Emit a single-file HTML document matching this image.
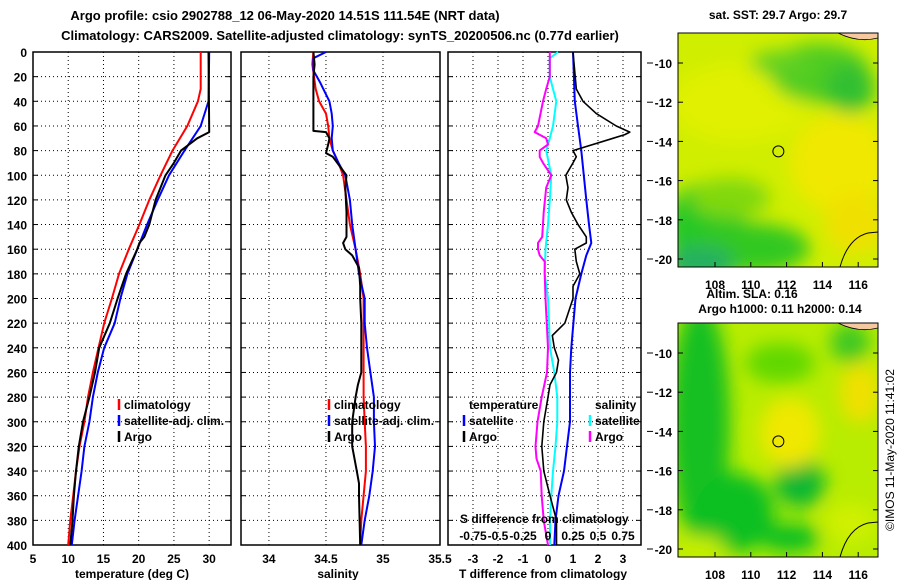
<!DOCTYPE html>
<html><head><meta charset="utf-8">
<style>
html,body{margin:0;padding:0;background:#fff;}
svg{display:block;font-family:"Liberation Sans",Arial,sans-serif;font-weight:bold;}
</style></head>
<body>
<svg id="c" width="900" height="580" viewBox="0 0 900 580">
<defs>
<filter id="blur8"><feGaussianBlur stdDeviation="9"/></filter>
<clipPath id="clipTop"><rect x="678" y="33" width="200" height="234"/></clipPath>
<clipPath id="clipBot"><rect x="678" y="323" width="200" height="234"/></clipPath>
</defs>
<text x="285" y="20" font-size="13" text-anchor="middle">Argo profile: csio 2902788_12 06-May-2020 14.51S 111.54E (NRT data)</text>
<text x="340" y="40" font-size="13" text-anchor="middle">Climatology: CARS2009. Satellite-adjusted climatology: synTS_20200506.nc (0.77d earlier)</text>
<g id="plots"></g>
<g id="maps"></g>
<text transform="translate(894,450) rotate(-90)" font-size="12" font-weight="normal" text-anchor="middle">©IMOS 11-May-2020 11:41:02</text>
</svg>
<script>
// ---------- DATA ----------
const depthTicks = [0,20,40,60,80,100,120,140,160,180,200,220,240,260,280,300,320,340,360,380,400];
const tempTicks = [5,10,15,20,25,30];
const salTicks = [34,34.5,35,35.5];
const tdiffTicks = [-3,-2,-1,0,1,2,3];
const sdiffTickLabels = ["-0.75","-0.5","-0.25","0","0.25","0.5","0.75"];
const sdiffTicks = [-0.75,-0.5,-0.25,0,0.25,0.5,0.75];

const tClimDepth = [0,30,40,60,80,100,120,140,160,180,200,220,240,260,280,300,320,340,360,380,400];
const tClim = [28.8,28.8,28.4,26.9,24.8,23.1,21.5,20.1,18.6,17.2,16.2,15.1,14.3,13.5,12.8,12.3,11.6,11.1,10.7,10.3,10.0];
const tSatDepth = [0,40,60,80,100,120,140,160,180,200,220,240,260,280,300,320,340,360,380,400];
const tSat = [30.0,29.9,28.8,26.5,24.3,22.7,21.2,19.8,18.4,17.4,16.6,15.1,14.2,13.5,13.0,12.3,11.9,11.4,10.9,10.5];
const argoDepth = [0,65,70,80,90,100,120,140,150,155,160,180,200,220,240,260,280,300,320,340,360,380,400];
const tArgo = [29.9,30.0,28.3,26.0,25.0,23.8,22.4,21.5,20.8,20.1,19.8,18.2,17.0,15.9,14.4,13.8,13.0,12.1,11.5,11.1,10.8,10.6,10.3];

const sClimDepth = [0,10,30,40,50,60,70,80,90,100,120,140,160,180,200,220,240,260,280,300,320,340,360,380,400];
const sClim = [34.39,34.38,34.41,34.44,34.5,34.52,34.53,34.56,34.61,34.65,34.68,34.71,34.76,34.80,34.83,34.83,34.83,34.83,34.83,34.84,34.85,34.85,34.83,34.81,34.80];
const sSatDepth = [0,5,15,25,40,50,60,70,80,90,100,120,140,160,180,200,220,240,260,280,300,320,340,360,380,400];
const sSat = [34.5,34.39,34.39,34.45,34.53,34.55,34.56,34.55,34.56,34.61,34.67,34.71,34.73,34.76,34.79,34.84,34.84,34.86,34.89,34.92,34.92,34.93,34.91,34.88,34.84,34.81];
const sArgoDepth = [0,10,20,64,65,70,75,82,85,95,100,110,130,150,155,160,165,175,190,200,220,240,260,270,280,300,320,330,340,350,360,400];
const sArgo = [34.39,34.4,34.39,34.39,34.5,34.53,34.52,34.5,34.56,34.64,34.68,34.67,34.68,34.68,34.65,34.67,34.73,34.79,34.80,34.80,34.81,34.81,34.81,34.78,34.76,34.73,34.73,34.75,34.77,34.79,34.79,34.80];

const dTSatDepth = [0,40,60,80,100,120,140,155,165,180,200,240,260,280,300,320,340,360,380,400];
const dTSat = [1.0,1.07,1.2,1.33,1.43,1.53,1.64,1.73,1.53,1.33,1.1,0.93,0.88,0.88,0.88,0.76,0.64,0.42,0.3,0.25];
const dTArgoDepth = [0,30,40,50,60,65,67,70,80,85,90,100,110,120,130,140,150,155,160,170,180,190,200,220,230,240,250,260,270,280,300,320,340,360,380,400];
const dTArgo = [1.0,1.13,1.4,1.93,2.73,3.27,3.07,2.6,1.0,1.13,1.0,0.71,0.8,0.73,0.93,1.2,1.53,1.53,1.07,1.13,1.27,1.0,1.0,0.67,0.17,0.25,0.42,0.34,0.08,0,-0.17,-0.25,-0.17,0.08,0.34,0.34];
const dSSatDepth = [0,5,20,30,40,60,70,80,100,120,140,160,180,200,240,260,280,300,320,340,360,380,400];
const dSSat = [0.1,0.018,0.018,0.05,0.083,0.05,0.018,-0.018,0.033,0.018,0,-0.025,-0.033,0,0.02,0.063,0.093,0.093,0.075,0.05,0.033,0.02,0.02];
const dSArgoDepth = [0,20,30,40,60,65,70,75,80,85,90,100,110,130,150,155,160,165,170,180,200,240,260,280,300,320,330,340,360,380,400];
const dSArgo = [0.018,0.018,-0.018,-0.05,-0.1,-0.133,-0.018,0,-0.083,-0.083,-0.05,0.033,-0.018,-0.043,-0.058,-0.1,-0.1,-0.083,-0.033,-0.033,-0.025,0,-0.01,-0.063,-0.105,-0.125,-0.115,-0.073,-0.063,-0.043,0];

const latTicks = [-10,-12,-14,-16,-18,-20];
const lonTicks = [108,110,112,114,116];
const argoLon = 111.54, argoLat = -14.51;

// ---------- HELPERS ----------
const NS = "http://www.w3.org/2000/svg";
function mk(tag, attrs, parent){ const e=document.createElementNS(NS,tag); for(const k in attrs) e.setAttribute(k,attrs[k]); parent.appendChild(e); return e; }
const plots = document.getElementById('plots');
const Y0 = 52, Y1 = 545;
const yD = d => Y0 + (d/400)*(Y1-Y0);

function panel(name, x0, x1, vmin, vmax, ticks, tickLabels){
  const g = mk('g',{},plots);
  
  
  const sx = v => x0 + (v-vmin)/(vmax-vmin)*(x1-x0);
  depthTicks.forEach(d=>{ if(d>0&&d<400){ const l=mk('line',{x1:x0,x2:x1,y1:yD(d),y2:yD(d),stroke:'#000','stroke-width':1,'stroke-dasharray':'1,3'},g);
      }});
  ticks.forEach(v=>{ const x=sx(v); if(x>x0+1&&x<x1-1){ const l=mk('line',{x1:x,x2:x,y1:Y0,y2:Y1,stroke:'#000','stroke-width':1,'stroke-dasharray':'1,3'},g);
      }});
  depthTicks.forEach(d=>{ mk('line',{x1:x0,x2:x0+5,y1:yD(d),y2:yD(d),stroke:'#000'},g); mk('line',{x1:x1-5,x2:x1,y1:yD(d),y2:yD(d),stroke:'#000'},g); });
  ticks.forEach((v,i)=>{ const x=sx(v);
    const t=mk('text',{x:x,y:Y1+18,'font-size':12,'text-anchor':'middle'},g); t.textContent = tickLabels? tickLabels[i] : String(v);
      });
  const r=mk('rect',{x:x0,y:Y0,width:x1-x0,height:Y1-Y0,fill:'none',stroke:'#000','stroke-width':1.5},g);
   
  return {g, sx};
}
function series(p, name, depths, vals, color, w){
  const pts = depths.map((d,i)=> p.sx(vals[i]).toFixed(1)+','+yD(d).toFixed(1)).join(' ');
  const l = mk('polyline',{points:pts,fill:'none',stroke:color,'stroke-width':w||2,'stroke-linejoin':'round'},p.g);
  
  
}
function label(g, x, y, s, name, anchor, size){
  const t=mk('text',{x:x,y:y,'font-size':size||12,'text-anchor':anchor||'start'},g); t.textContent=s;
  
  
  return t;
}
function legendItem(g, x, y, color, s, name){
  mk('line',{x1:x,x2:x,y1:y-10,y2:y+1,stroke:color,'stroke-width':2.5},g);
  label(g, x+5, y, s, name);
}

const yl = mk('g',{},plots);


depthTicks.forEach(d=>{ label(yl, 27, yD(d)+5, String(d), 'y-tick-label', 'end'); });

// Panel 1 temperature
const p1 = panel('temperature-panel', 33, 231, 5, 33.1, tempTicks);
series(p1,'temp-climatology-line',tClimDepth,tClim,'#f00');
series(p1,'temp-satellite-line',tSatDepth,tSat,'#00f');
series(p1,'temp-argo-line',argoDepth,tArgo,'#000');
label(p1.g, 132, 578, 'temperature (deg C)', 'x-axis-title', 'middle');
legendItem(p1.g, 119, 409, '#f00', 'climatology', 'legend-climatology');
legendItem(p1.g, 119, 425, '#00f', 'satellite-adj. clim.', 'legend-satellite');
legendItem(p1.g, 119, 441, '#000', 'Argo', 'legend-argo');

// Panel 2 salinity
const p2 = panel('salinity-panel', 241, 440, 33.755, 35.5, salTicks);
series(p2,'sal-climatology-line',sClimDepth,sClim,'#f00');
series(p2,'sal-satellite-line',sSatDepth,sSat,'#00f');
series(p2,'sal-argo-line',sArgoDepth,sArgo,'#000');
label(p2.g, 338, 578, 'salinity', 'x-axis-title', 'middle');
legendItem(p2.g, 329, 409, '#f00', 'climatology', 'legend-climatology');
legendItem(p2.g, 329, 425, '#00f', 'satellite-adj. clim.', 'legend-satellite');
legendItem(p2.g, 329, 441, '#000', 'Argo', 'legend-argo');

// Panel 3 differences
const p3 = panel('difference-panel', 448, 641, -4, 3.72, tdiffTicks);
const p3s = {g:p3.g, sx: v => p3.sx(v*4)};
series(p3s,'sdiff-satellite-line',dSSatDepth,dSSat,'#0ff');
series(p3s,'sdiff-argo-line',dSArgoDepth,dSArgo,'#f0f');
series(p3,'tdiff-satellite-line',dTSatDepth,dTSat,'#00f');
series(p3,'tdiff-argo-line',dTArgoDepth,dTArgo,'#000',1.6);
label(p3.g, 543, 578, 'T difference from climatology', 'x-axis-title', 'middle');
label(p3.g, 469, 409, 'temperature', 'legend-temperature-header');
legendItem(p3.g, 464, 425, '#00f', 'satellite', 'legend-t-satellite');
legendItem(p3.g, 464, 441, '#000', 'Argo', 'legend-t-argo');
label(p3.g, 595, 409, 'salinity', 'legend-salinity-header');
legendItem(p3.g, 590, 425, '#0ff', 'satellite', 'legend-s-satellite');
legendItem(p3.g, 590, 441, '#f0f', 'Argo', 'legend-s-argo');
label(p3.g, 460, 523, 'S difference from climatology', 'sdiff-axis-title');
sdiffTicks.forEach((v,i)=>{ label(p3.g, p3s.sx(v), 540, sdiffTickLabels[i], 'sdiff-tick-label','middle'); });

// ---------- MAPS ----------
const maps = document.getElementById('maps');
const MX0=678, MX1=878;
const lonX = lon => 715 + (lon-108)*17.9;
function drawMap(name, top, clip, blobs, base){
  const g = mk('g',{},maps);
  
  
  const latY = lat => top + 30 + (-10-lat)*19.6;
  const cg = mk('g',{'clip-path':'url(#'+clip+')'},g);
  mk('rect',{x:MX0,y:top,width:200,height:234,fill:base},cg);
  const bg = mk('g',{filter:'url(#blur8)'},cg);
  blobs.forEach(b=>{ mk('ellipse',{cx:b[0],cy:top+b[1],rx:b[2],ry:b[3],fill:b[4]},bg); });
  mk('path',{d:`M${MX1-40},${top} Q${MX1-20},${top+10} ${MX1},${top+5} L${MX1},${top} Z`,fill:'#f6c8a0',stroke:'#000','stroke-width':0.8},cg);
  mk('path',{d:`M${MX1-38},${top+234} Q${MX1-30},${top+205} ${MX1-10},${top+200} L${MX1},${top+199}`,fill:'none',stroke:'#000','stroke-width':1},cg);
  mk('rect',{x:MX0,y:top,width:200,height:234,fill:'none',stroke:'#000','stroke-width':1},g);
  latTicks.forEach(l=>{ const y=latY(l);
    mk('line',{x1:MX0,x2:MX0+5,y1:y,y2:y,stroke:'#000'},g);
    mk('line',{x1:MX1-5,x2:MX1,y1:y,y2:y,stroke:'#000'},g);
    mk('line',{x1:647,x2:653,y1:y,y2:y,stroke:'#000'},g);
    label(g, 672, y+5, String(l), 'map-lat-label', 'end'); });
  lonTicks.forEach(l=>{ const x=lonX(l);
    mk('line',{x1:x,x2:x,y1:top+234,y2:top+229,stroke:'#000'},g);
    label(g, x, top+256, String(l), 'map-lon-label', 'middle'); });
  const c = mk('circle',{cx:lonX(argoLon),cy:latY(argoLat),r:5.5,fill:'none',stroke:'#000','stroke-width':1},g);
  
  
}
drawMap('sst-map', 33, 'clipTop', [
  [740,70,70,40,'#e0f000'],[840,130,50,50,'#f0e800'],[855,190,30,30,'#f0e000'],
  [820,40,50,30,'#50cc20'],[850,55,25,25,'#30c030'],[780,30,30,12,'#60d020'],
  [705,195,40,45,'#28c828'],[750,215,60,25,'#30c820'],[700,232,35,20,'#28b060'],[730,165,40,20,'#80d810']
], '#d0ee00');
drawMap('sla-map', 323, 'clipBot', [
  [700,100,30,120,'#18c020'],[735,190,40,40,'#10c020'],[800,160,25,25,'#10b830'],
  [790,215,30,15,'#10c020'],[790,110,30,35,'#f0e800'],[860,70,20,30,'#f0e000'],
  [780,40,35,20,'#60d800'],[850,20,20,20,'#40c820'],[850,200,25,20,'#d0f000'],[700,225,25,12,'#c8f000']
], '#b8ec00');
label(maps, 778, 19, 'sat. SST: 29.7 Argo: 29.7', 'sst-map-title', 'middle');
label(maps, 752, 298, 'Altim. SLA: 0.16', 'sla-map-title', 'middle');
label(maps, 780, 313, 'Argo h1000: 0.11 h2000: 0.14', 'sla-argo-values', 'middle');
</script>
</body></html>
